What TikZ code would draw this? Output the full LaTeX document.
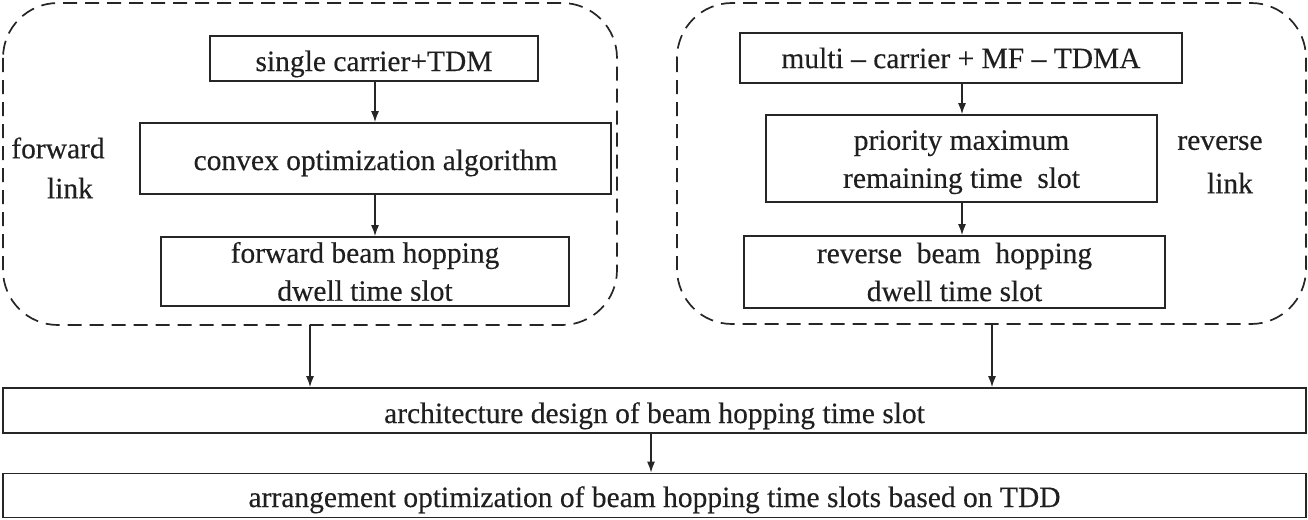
\documentclass[tikz,border=0pt]{standalone}
\usepackage{fontspec}
\setmainfont[UprightFeatures={FakeBold=0.3}]{Liberation Serif}
\usetikzlibrary{arrows.meta}
\begin{document}
\begin{tikzpicture}[x=1pt,y=-1pt,
  every node/.style={font=\fontsize{29.5}{38}\selectfont, text=black!88},
  box/.style={draw=black!85, line width=1.7pt, inner sep=0pt, align=center},
  group/.style={draw=black!85, line width=1.7pt, dash pattern=on 14pt off 8pt, rounded corners=55pt},
  arr/.style={draw=black!85, line width=1.4pt, -{Latex[length=11pt,width=8pt]}},
  lbl/.style={inner sep=0pt}]
\useasboundingbox (0,0) rectangle (1308,519);
% groups
\draw[group] (3,3) rectangle (617,325);
\draw[group] (677,3) rectangle (1306,324);
\coordinate (gl) at (310,325);
\coordinate (gr) at (992,324);
% left column
\node[box, minimum width=328pt, minimum height=45pt, text height=25pt, text depth=0pt] (sc) at (374,58.5) {single carrier+TDM};
\node[box, minimum width=471pt, minimum height=71pt, text height=23pt, text depth=0pt] (co) at (375.5,158.5) {convex optimization algorithm};
\node[box, minimum width=408pt, minimum height=69pt] (fb) at (365,271.5) {forward beam hopping\\dwell time slot};
\node[lbl] (fw) at (58,148) {forward};
\node[lbl] (fl) at (70,188) {link};
% right column
\node[box, minimum width=442pt, minimum height=50pt] (mc) at (961,58) {multi – carrier + MF – TDMA};
\node[box, minimum width=391pt, minimum height=87pt] (pm) at (961.5,158.5) {\rule{0pt}{27pt}priority maximum\\remaining time~ slot};
\node[box, minimum width=421pt, minimum height=72pt] (rb) at (954.5,272) {reverse~ beam~ hopping\\dwell time slot};
\node[lbl] (rv) at (1220,143) {reverse};
\node[lbl] (rl) at (1230,183) {link};
% bottom
\node[box, minimum width=1303pt, minimum height=45pt, text height=25pt, text depth=0pt] (ad) at (654.5,410.5) {architecture design of beam hopping time slot};
\node[box, minimum width=1303pt, minimum height=44pt, text height=23pt, text depth=0pt] (ao) at (654.5,495.5) {arrangement optimization of beam hopping time slots based on TDD};
% arrows
\draw[arr] (sc.south -| 375,0) -- (co.north -| 375,0);
\draw[arr] (co.south -| 375,0) -- (fb.north -| 375,0);
\draw[arr] (mc.south -| 962,0) -- (pm.north -| 962,0);
\draw[arr] (pm.south -| 962,0) -- (rb.north -| 962,0);
\draw[arr] (gl) -- (ad.north -| gl);
\draw[arr] (gr) -- (ad.north -| gr);
\draw[arr] (ad.south -| 651,0) -- (ao.north -| 651,0);
\end{tikzpicture}
\end{document}
